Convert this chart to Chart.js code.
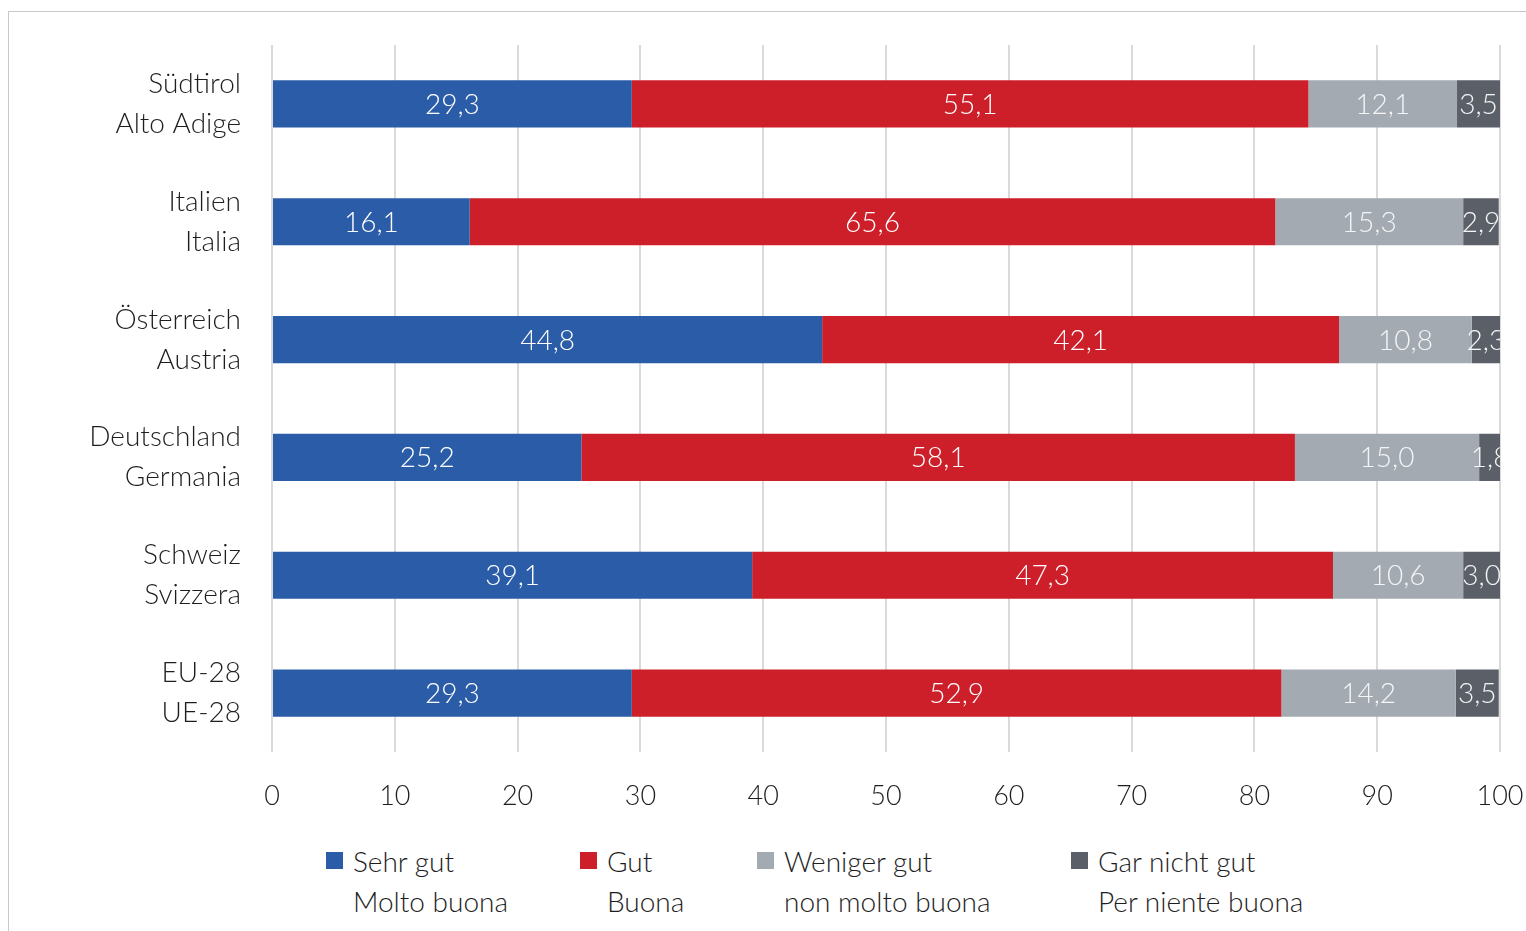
<!DOCTYPE html>
<html>
<head>
<meta charset="utf-8">
<script src="https://cdn.jsdelivr.net/npm/chart.js@4/dist/chart.umd.min.js"></script>
<style>
  html, body { margin:0; padding:0; background:#fff; }
  body { width:1526px; height:931px; position:relative; overflow:hidden; font-family:Lato, "Open Sans", sans-serif; }
  #frame { position:absolute; left:8px; top:11px; width:1530px; height:940px; border-left:1px solid #c8c8c8; border-top:1px solid #c8c8c8; }
  #wrap { position:absolute; left:0; top:0; width:1526px; height:812px; }
  #legend { position:absolute; top:841px; left:0; width:1526px; height:80px; }
  .lg { position:absolute; top:0; font-size:28px; font-weight:300; color:#1e1e1e; line-height:40px; }
  .lg .sw { position:absolute; left:-27px; top:11px; width:17px; height:17px; }
</style>
</head>
<body>
<div id="frame"></div>
<div id="wrap"><canvas id="chart"></canvas></div>
<div id="legend"></div>
<script>
// categories (two lines each)
const categories = [
  ["Südtirol", "Alto Adige"],
  ["Italien", "Italia"],
  ["Österreich", "Austria"],
  ["Deutschland", "Germania"],
  ["Schweiz", "Svizzera"],
  ["EU-28", "UE-28"]
];

// series values (%)
const sehrGut      = [29.3, 16.1, 44.8, 25.2, 39.1, 29.3];
const gut          = [55.1, 65.6, 42.1, 58.1, 47.3, 52.9];
const wenigerGut   = [12.1, 15.3, 10.8, 15.0, 10.6, 14.2];
const garNichtGut  = [3.5, 2.9, 2.3, 1.8, 3.0, 3.5];

const seriesNames = [
  ["Sehr gut", "Molto buona"],
  ["Gut", "Buona"],
  ["Weniger gut", "non molto buona"],
  ["Gar nicht gut", "Per niente buona"]
];
const colors = ["#2b5ca8", "#cd1f2a", "#a3aab1", "#5b6068"];
const labelColors = ["#ffffff", "#ffffff", "#f4f5f6", "#f4f5f6"];
const xTicks = [0, 10, 20, 30, 40, 50, 60, 70, 80, 90, 100];

// draw value labels inside the bars, clipped to the plot area
const barLabels = {
  id: "barLabels",
  afterDatasetsDraw(chart){
    const ctx = chart.ctx, a = chart.chartArea;
    ctx.save();
    ctx.beginPath();
    ctx.rect(a.left, a.top - 50, a.right - a.left, a.bottom - a.top + 100);
    ctx.clip();
    ctx.font = "300 28px Lato, 'Open Sans', sans-serif";
    ctx.textAlign = "center";
    ctx.textBaseline = "middle";
    chart.data.datasets.forEach((ds, i) => {
      chart.getDatasetMeta(i).data.forEach((bar, j) => {
        const txt = ds.data[j].toFixed(1).replace(".", ",");
        const cx = (bar.x + bar.base) / 2;
        ctx.fillStyle = labelColors[i];
        ctx.fillText(txt, cx, bar.y + 1);
      });
    });
    ctx.restore();
  }
};

// no automatic label overflow padding, layout.padding decides
function noPad(s){ s.paddingTop = 0; s.paddingBottom = 0; s.paddingLeft = 0; s.paddingRight = 0; }

const allSeries = [sehrGut, gut, wenigerGut, garNichtGut];

new Chart(document.getElementById("chart"), {
  type: "bar",
  data: {
    labels: categories,
    datasets: allSeries.map((d, i) => ({
      label: seriesNames[i].join(" "),
      data: d,
      backgroundColor: colors[i],
      borderWidth: 0,
      barPercentage: 0.8,
      categoryPercentage: 0.5
    }))
  },
  options: {
    indexAxis: "y",
    responsive: true,
    maintainAspectRatio: false,
    animation: false,
    layout: { padding: { top: 45, right: 26, left: 0, bottom: 0 } },
    plugins: { legend: { display: false }, tooltip: { enabled: false } },
    scales: {
      x: {
        stacked: true,
        min: 0, max: 100,
        afterBuildTicks: s => { s.ticks = xTicks.map(v => ({ value: v })); },
        afterFit: s => { s.height = 60; noPad(s); },
        grid: { color: "#dadada", lineWidth: 2, drawTicks: false },
        border: { display: false },
        ticks: { padding: 28, color: "#1e1e1e", font: { family: "Lato", size: 27, weight: 300 } }
      },
      y: {
        stacked: true,
        afterFit: s => { s.width = 272; noPad(s); },
        grid: { display: false, drawTicks: false },
        border: { display: false },
        ticks: { padding: 31, color: "#1e1e1e", font: { family: "Lato", size: 28, weight: 300, lineHeight: 1.43 } }
      }
    }
  },
  plugins: [barLabels]
});

// legend
const legendX = [353, 607, 784, 1098];
const legendEl = document.getElementById("legend");
seriesNames.forEach((n, i) => {
  const d = document.createElement("div");
  d.className = "lg";
  d.style.left = legendX[i] + "px";
  d.innerHTML = '<span class="sw" style="background:' + colors[i] + '"></span>' + n[0] + "<br>" + n[1];
  legendEl.appendChild(d);
});
</script>
</body>
</html>
